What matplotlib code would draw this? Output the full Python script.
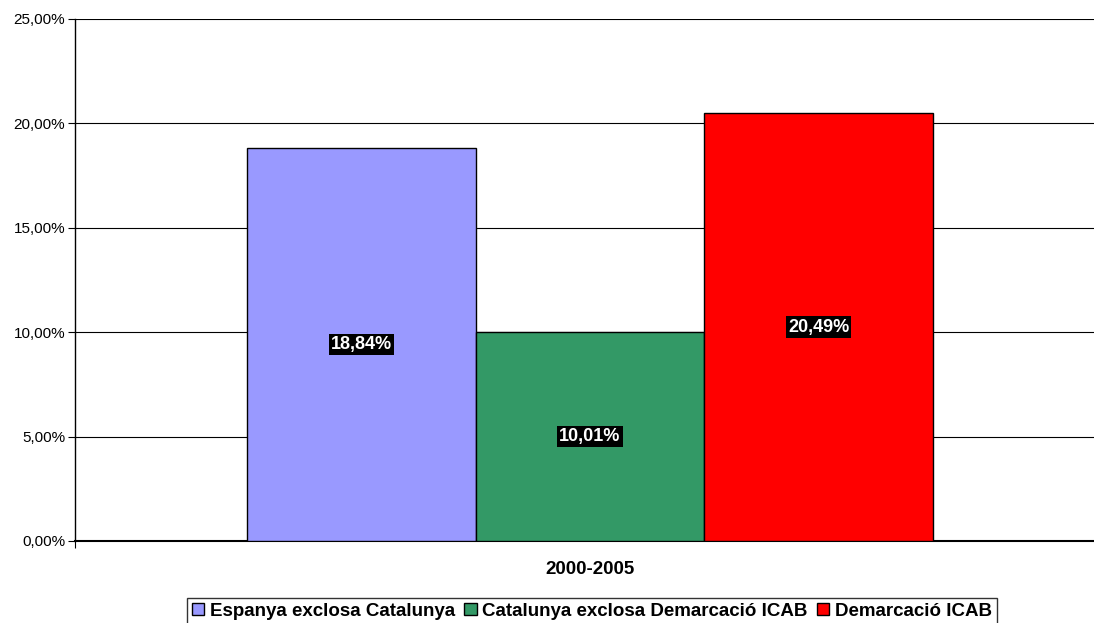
import matplotlib.pyplot as plt
from matplotlib.ticker import FuncFormatter

plt.rcParams['font.family'] = ['Liberation Sans', 'DejaVu Sans']

category = '2000-2005'
series = ['Espanya exclosa Catalunya', 'Catalunya exclosa Demarcació ICAB', 'Demarcació ICAB']
values = [18.84, 10.01, 20.49]
colors = ['#9999ff', '#339966', '#ff0000']

fig = plt.figure(figsize=(10.94, 6.23), dpi=100)
ax = fig.add_axes([75 / 1094, 1 - 541 / 623, 1030 / 1094, 522 / 623])

width = 0.222
offsets = [-width, 0, width]
for name, val, col, off in zip(series, values, colors, offsets):
    ax.bar(off, val, width=width, color=col, edgecolor='black', linewidth=1, label=name, zorder=3)
    ax.text(off, val / 2, f'{val:.2f}%'.replace('.', ','), ha='center', va='center',
            color='white', fontsize=13, fontweight='bold',
            bbox=dict(facecolor='black', edgecolor='none', pad=1.5), zorder=4)

ax.set_xlim(-0.5, 0.5)
ax.set_ylim(0, 25)
ax.set_yticks([0, 5, 10, 15, 20, 25])
ax.yaxis.set_major_formatter(FuncFormatter(lambda v, p: f'{v:.2f}%'.replace('.', ',')))
ax.tick_params(axis='y', labelsize=11, length=5, width=0.8, direction='out', pad=2)
ax.set_xticks([-0.5])
ax.set_xticklabels([''])
ax.tick_params(axis='x', length=5, width=0.8)
ax.grid(axis='y', color='black', linewidth=0.8, zorder=0)
for s in ['top', 'right']:
    ax.spines[s].set_visible(False)
ax.spines['left'].set_linewidth(1)
ax.spines['bottom'].set_linewidth(1.5)

fig.text(590 / 1094, 1 - 570 / 623, category, ha='center', va='center', fontsize=13.5, fontweight='bold')

leg = fig.legend(loc='center', bbox_to_anchor=(592 / 1094, 1 - 611 / 623), ncol=3,
                 prop={'size': 13.5, 'weight': 'bold'}, frameon=True, fancybox=False,
                 edgecolor='black', handlelength=0.65, handleheight=0.65, handletextpad=0.3,
                 columnspacing=0.5, borderpad=0.25, borderaxespad=0)
leg.get_frame().set_linewidth(1)

fig.savefig('out.png', dpi=100)
